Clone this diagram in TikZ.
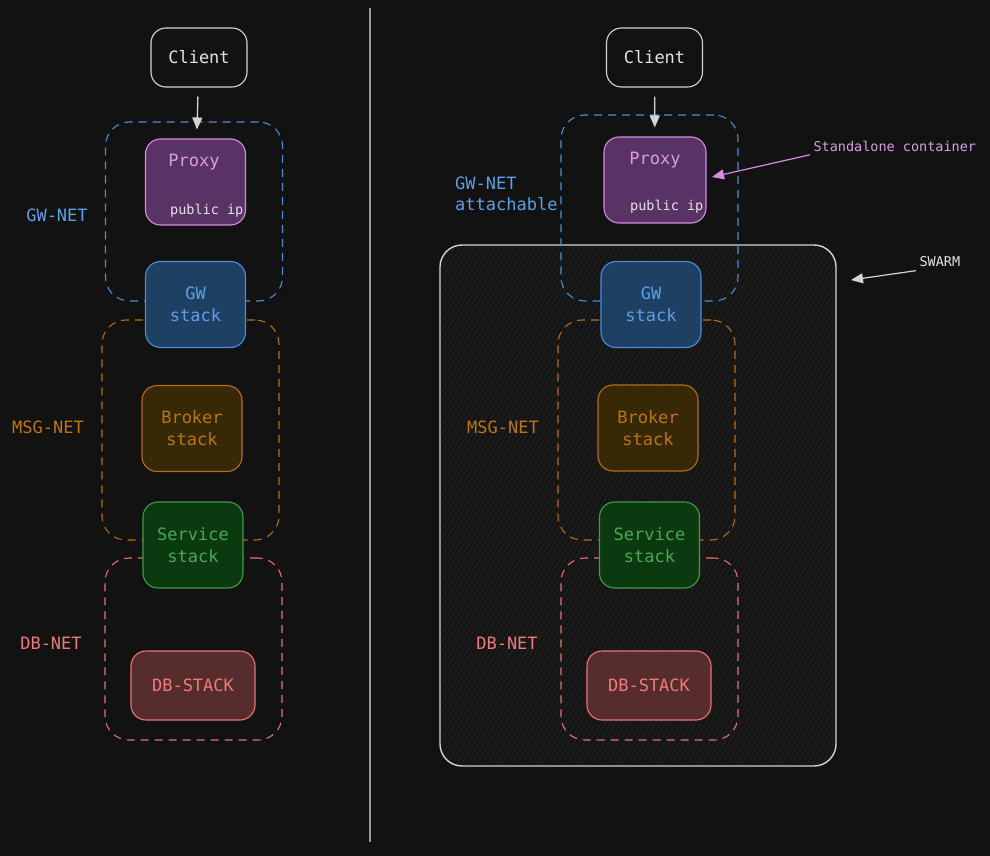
\documentclass[tikz,border=0pt]{standalone}
\usepackage{fontspec}
\setmainfont{DejaVu Sans Mono}
\usetikzlibrary{arrows.meta,positioning}
\definecolor{bgc}{HTML}{121212}
\definecolor{lightline}{HTML}{D4D4D4}
\definecolor{lighttext}{HTML}{E4E4E4}
\definecolor{gwdash}{HTML}{4D8FD6}
\definecolor{gwtext}{HTML}{5E9FE6}
\definecolor{gwfill}{HTML}{1E4063}
\definecolor{gwline}{HTML}{4A8FD6}
\definecolor{pxfill}{HTML}{5A3366}
\definecolor{pxline}{HTML}{D68BE0}
\definecolor{pxtext}{HTML}{DB9CE6}
\definecolor{msgdash}{HTML}{B86E0E}
\definecolor{msgtext}{HTML}{BC7512}
\definecolor{brfill}{HTML}{372806}
\definecolor{brline}{HTML}{B46F10}
\definecolor{svfill}{HTML}{0B3A10}
\definecolor{svline}{HTML}{3F9C48}
\definecolor{svtext}{HTML}{4DA556}
\definecolor{dbdash}{HTML}{E87272}
\definecolor{dbtext}{HTML}{F07A7A}
\definecolor{dbfill}{HTML}{562C2C}
\definecolor{dbline}{HTML}{F07474}
\definecolor{swfill}{HTML}{151515}
\definecolor{hatch}{HTML}{222222}
\definecolor{divline}{HTML}{9A9A9A}
\tikzset{
    %Define standard arrow tip
    >={Triangle[length=12pt,width=10pt]},
    %Define style for boxes
    stackbox/.style={
           rectangle,
           rounded corners=15pt,
           line width=1.1pt,
           minimum width=100pt,
           minimum height=86pt,
           inner sep=0pt,
           align=center,
           font=\fontsize{17}{22}\selectfont},
    netbox/.style={
           rectangle,
           rounded corners=24pt,
           dash pattern=on 8pt off 6pt,
           line width=1.1pt,
           minimum width=177pt,
           inner sep=0pt},
    netlabel/.style={font=\fontsize{17}{21}\selectfont},
    note/.style={font=\fontsize{13.5}{16}\selectfont},
    plainbox/.style={stackbox, draw=lightline, text=lighttext, minimum width=96pt, minimum height=59pt},
    proxy/.style={stackbox, draw=pxline, fill=pxfill},
    gw/.style={stackbox, draw=gwline, fill=gwfill, text=gwtext},
    broker/.style={stackbox, draw=brline, fill=brfill, text=msgtext},
    service/.style={stackbox, draw=svline, fill=svfill, text=svtext},
    dbstack/.style={stackbox, draw=dbline, fill=dbfill, text=dbtext, minimum width=124pt, minimum height=69pt},
    % Define arrow style
    pil/.style={
           ->,
           line width=1.3pt,
           shorten <=9pt,
           shorten >=9pt},
    pilthin/.style={->, line width=1.2pt}
}
\begin{document}
\begin{tikzpicture}[x=1pt,y=-1pt]
\fill[bgc] (0,0) rectangle (990,856);
\useasboundingbox (0,0) rectangle (990,856);

 %divider
\coordinate (top) at (370,8);
\coordinate (bot) at (370,842);
\draw[divline, line width=2.5pt] (top) -- (bot);

 %left nodes
\node[plainbox] (cl1) at (199,57.5) {Client};
\node[netbox, draw=gwdash, minimum height=179pt] (gwn1) at (194,211.5) {};
\node[netbox, draw=msgdash, minimum height=220pt] (msgn1) at (190.5,430) {};
\node[netbox, draw=dbdash, minimum height=182pt] (dbn1) at (193.5,649) {};
\node[proxy] (px1) at (195.5,182) {};
\node[netlabel, text=pxtext] (pxt1) at (194,162) {Proxy};
\node[note, text=lighttext, anchor=west, inner sep=0pt] (ip1) at (170,211) {public ip};
\node[gw] (gw1) at (195.5,304.5) {GW\\stack};
\node[broker] (br1) at (192,428.5) {Broker\\stack};
\node[service] (sv1) at (193,545) {Service\\stack};
\node[dbstack] (db1) at (193,685.5) {DB-STACK};
\node[netlabel, text=gwtext] (gwl1) at (57,215) {GW-NET};
\node[netlabel, text=msgtext] (msgl1) at (48,427) {MSG-NET};
\node[netlabel, text=dbtext] (dbl1) at (51,643) {DB-NET};

\draw[pil, lightline] (cl1) -- (px1);

 %right nodes
\node[rectangle, rounded corners=22pt, draw=lightline, fill=swfill, line width=1.4pt,
      minimum width=396pt, minimum height=521pt, inner sep=0pt,
      path picture={
        \foreach \i in {-620,-615,...,320}
          \draw[hatch, line width=0.8pt] ([shift={(\i,300)}]path picture bounding box.center) -- ++(346,-600);
      }] (sw) at (638,505.5) {};
\node[plainbox] (cl2) at (654.5,57.5) {Client};
\node[netbox, draw=gwdash, minimum height=186pt] (gwn2) at (649.5,208) {};
\node[netbox, draw=msgdash, minimum height=220pt] (msgn2) at (646.5,430) {};
\node[netbox, draw=dbdash, minimum height=182pt] (dbn2) at (649.5,649) {};
\node[proxy, minimum width=102pt] (px2) at (655,180) {};
\node[netlabel, text=pxtext] (pxt2) at (655,160) {Proxy};
\node[note, text=lighttext, anchor=west, inner sep=0pt] (ip2) at (630,207) {public ip};
\node[gw] (gw2) at (651,304.5) {GW\\stack};
\node[broker] (br2) at (648,428) {Broker\\stack};
\node[service] (sv2) at (649.5,545) {Service\\stack};
\node[dbstack] (db2) at (649,685.5) {DB-STACK};
\node[netlabel, text=gwtext, anchor=west, align=left, inner sep=0pt] (gwl2) at (455,194) {GW-NET\\attachable};
\node[netlabel, text=msgtext] (msgl2) at (503,427) {MSG-NET};
\node[netlabel, text=dbtext] (dbl2) at (507,643) {DB-NET};

\draw[pil, lightline] (cl2) -- (px2);

 %notes
\node[note, text=pxtext, anchor=west] (sa) at (810,146) {Standalone container};
\node[note, text=lighttext, anchor=west] (swl) at (916,262) {SWARM};
\coordinate (satip) at (712,177);
\coordinate (swtip) at (851,280);
\draw[pilthin, pxline] (sa.south west) -- (satip);
\draw[pilthin, lightline] (swl.south west) -- (swtip);

\end{tikzpicture}
\end{document}
